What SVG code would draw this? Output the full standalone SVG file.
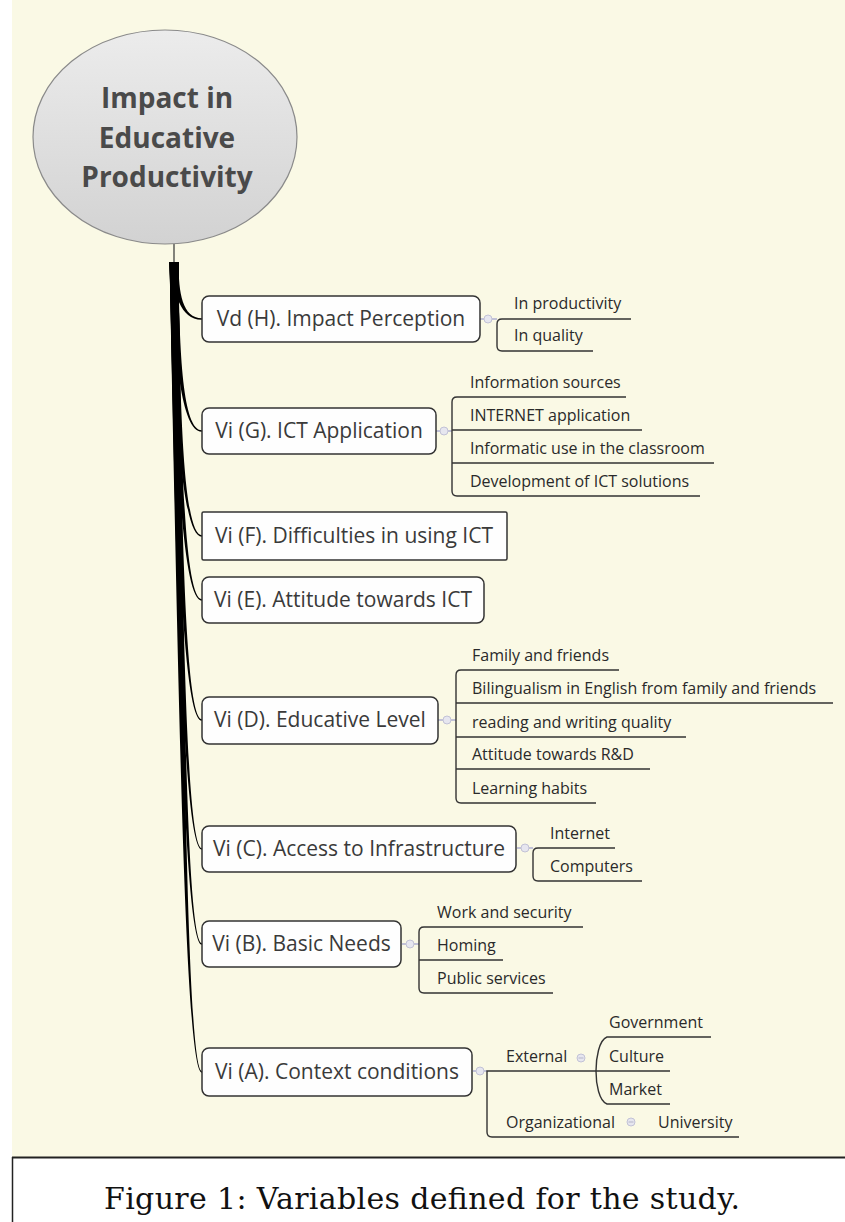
<svg xmlns="http://www.w3.org/2000/svg" width="845" height="1222" viewBox="0 0 845 1222">
<defs>
<linearGradient id="ellg" x1="0" y1="0" x2="0" y2="1">
<stop offset="0" stop-color="#ececec"/>
<stop offset="1" stop-color="#d2d2d2"/>
</linearGradient>
<style>
.node rect{fill:#fefefe;stroke:#333;stroke-width:1.5}
.nt{font-family:"Open Sans","DejaVu Sans",sans-serif;font-size:21px;fill:#3a3a3a;text-anchor:middle}
.ct{font-family:"Open Sans","DejaVu Sans",sans-serif;font-size:16px;fill:#2a2a2a}
.br{fill:#000}
.ul{fill:none;stroke:#333;stroke-width:1.4}
.lk{stroke:#c2c2d6;stroke-width:2}
.ic{fill:#e6e6ef;stroke:#c2c2d6;stroke-width:1}
.ic2{stroke:#b5b5c8;stroke-width:1}
.root{font-family:"Open Sans","DejaVu Sans",sans-serif;font-size:28px;font-weight:bold;fill:#4a4a4a;text-anchor:middle}
.cap{font-family:"DejaVu Serif","Liberation Serif",serif;font-size:30px;fill:#111;text-anchor:middle}
</style>
</defs>
<rect x="0" y="0" width="845" height="1222" fill="#ffffff"/>
<rect x="12" y="0" width="833" height="1157" fill="#faf9e5"/>

<g id="connectors">
<line x1="174" y1="244" x2="174" y2="264" stroke="#333" stroke-width="1.2"/>
<path class="br" d="M169.5,262 C174,293.4 180.3,320.1 202,319.7 L202,318.3 C182.3,317.9 178.6,293.4 178.5,262 Z"/>
<path class="br" d="M169.5,262 C174.8,355 181,432 202,431.7 L202,430.3 C183,430 179.2,355 178.5,262 Z"/>
<path class="br" d="M169.5,262 C175.4,412.7 181.6,537 202,536.7 L202,535.3 C183.6,535 179.8,412.7 178.5,262 Z"/>
<path class="br" d="M169.5,262 C175.8,447.9 182,601 202,600.7 L202,599.3 C184,599 180.2,447.9 178.5,262 Z"/>
<path class="br" d="M169.5,262 C176.5,513.9 182.7,721 202,720.7 L202,719.3 C184.7,719 180.9,513.9 178.5,262 Z"/>
<path class="br" d="M169.5,262 C177.3,584.9 183.5,850 202,849.7 L202,848.3 C185.5,848 181.7,584.9 178.5,262 Z"/>
<path class="br" d="M169.5,262 C177.9,637.1 184.1,945 202,944.7 L202,943.3 C186.1,943 182.3,637.1 178.5,262 Z"/>
<path class="br" d="M169.5,262 C178.7,707.5 184.9,1073 202,1072.7 L202,1071.3 C186.9,1071 183.1,707.5 178.5,262 Z"/>

<line class="lk" x1="480" y1="319" x2="497" y2="319"/>
<circle class="ic" cx="488" cy="319" r="4"/>
<path class="ul" d="M631,319 H502 Q497,319 497,324 V346 Q497,351 502,351 H593"/>

<line class="lk" x1="436" y1="431" x2="452" y2="431"/>
<circle class="ic" cx="444" cy="431" r="4"/>
<path class="ul" d="M626,397 H457 Q452,397 452,402 V491 Q452,496 457,496 H700 M452,430 H642 M452,463 H714"/>

<line class="lk" x1="438" y1="720" x2="456" y2="720"/>
<circle class="ic" cx="447" cy="720" r="4"/>
<path class="ul" d="M619,670 H461 Q456,670 456,675 V798 Q456,803 461,803 H596 M456,703 H833 M456,737 H686 M456,769 H650"/>

<line class="lk" x1="517" y1="848" x2="533" y2="848"/>
<circle class="ic" cx="525" cy="848" r="4"/>
<path class="ul" d="M615,848 H538 Q533,848 533,853 V876 Q533,881 538,881 H642"/>

<line class="lk" x1="402" y1="944" x2="419" y2="944"/>
<circle class="ic" cx="410" cy="944" r="4"/>
<path class="ul" d="M583,927 H424 Q419,927 419,932 V988 Q419,993 424,993 H553 M419,960 H503"/>

<line class="lk" x1="473" y1="1071" x2="487" y2="1071"/>
<circle class="ic" cx="480" cy="1071" r="4"/>
<path class="ul" d="M670,1071 H487 V1132 Q487,1137 492,1137 H739"/>
<path class="ul" d="M711,1037 H607 C599,1040 596,1058 596,1071 C596,1084 599,1101 607,1104 H670"/>
<circle class="ic" cx="581" cy="1058" r="4"/>
<line class="ic2" x1="578.5" y1="1058" x2="583.5" y2="1058"/>
<circle class="ic" cx="631" cy="1122" r="4"/>
<line class="ic2" x1="628.5" y1="1122" x2="633.5" y2="1122"/>
</g>

<g id="root">
<ellipse cx="165" cy="137" rx="132" ry="107" fill="url(#ellg)" stroke="#8a8a8a" stroke-width="1.2"/>
<text class="root" x="167" y="108">Impact in</text>
<text class="root" x="167" y="148">Educative</text>
<text class="root" x="167" y="187">Productivity</text>
</g>

<g id="node-h" class="node">
<rect x="202" y="296" width="278" height="46" rx="7"/>
<text class="nt" x="341" y="326">Vd (H). Impact Perception</text>
</g>
<g id="h-1"><text class="ct" x="514" y="309">In productivity</text></g>
<g id="h-2"><text class="ct" x="514" y="341">In quality</text></g>

<g id="node-g" class="node">
<rect x="202" y="408" width="234" height="46" rx="7"/>
<text class="nt" x="319" y="438">Vi (G). ICT Application</text>
</g>
<g id="g-1"><text class="ct" x="470" y="388">Information sources</text></g>
<g id="g-2"><text class="ct" x="470" y="421">INTERNET application</text></g>
<g id="g-3"><text class="ct" x="470" y="454">Informatic use in the classroom</text></g>
<g id="g-4"><text class="ct" x="470" y="487">Development of ICT solutions</text></g>

<g id="node-f" class="node">
<rect x="202" y="512" width="305" height="48" rx="1.5"/>
<text class="nt" x="354" y="543">Vi (F). Difficulties in using ICT</text>
</g>

<g id="node-e" class="node">
<rect x="202" y="577" width="282" height="46" rx="7"/>
<text class="nt" x="343" y="607">Vi (E). Attitude towards ICT</text>
</g>

<g id="node-d" class="node">
<rect x="202" y="697" width="236" height="47" rx="7"/>
<text class="nt" x="320" y="727">Vi (D). Educative Level</text>
</g>
<g id="d-1"><text class="ct" x="472" y="661">Family and friends</text></g>
<g id="d-2"><text class="ct" x="472" y="694">Bilingualism in English from family and friends</text></g>
<g id="d-3"><text class="ct" x="472" y="728">reading and writing quality</text></g>
<g id="d-4"><text class="ct" x="472" y="760">Attitude towards R&amp;D</text></g>
<g id="d-5"><text class="ct" x="472" y="794">Learning habits</text></g>

<g id="node-c" class="node">
<rect x="202" y="826" width="314" height="46" rx="7"/>
<text class="nt" x="359" y="856">Vi (C). Access to Infrastructure</text>
</g>
<g id="c-1"><text class="ct" x="550" y="839">Internet</text></g>
<g id="c-2"><text class="ct" x="550" y="872">Computers</text></g>

<g id="node-b" class="node">
<rect x="202" y="921" width="199" height="46" rx="7"/>
<text class="nt" x="301.5" y="951">Vi (B). Basic Needs</text>
</g>
<g id="b-1"><text class="ct" x="437" y="918">Work and security</text></g>
<g id="b-2"><text class="ct" x="437" y="951">Homing</text></g>
<g id="b-3"><text class="ct" x="437" y="984">Public services</text></g>

<g id="node-a" class="node">
<rect x="202" y="1048" width="270" height="48" rx="7"/>
<text class="nt" x="337" y="1079">Vi (A). Context conditions</text>
</g>
<g id="a-ext"><text class="ct" x="506" y="1062">External</text></g>
<g id="a-org"><text class="ct" x="506" y="1128">Organizational</text></g>
<g id="a-gov"><text class="ct" x="609" y="1028">Government</text></g>
<g id="a-cul"><text class="ct" x="609" y="1062">Culture</text></g>
<g id="a-mkt"><text class="ct" x="609" y="1095">Market</text></g>
<g id="a-uni"><text class="ct" x="658" y="1128">University</text></g>

<g id="caption">
<line x1="12" y1="1157.5" x2="845" y2="1157.5" stroke="#222" stroke-width="2"/>
<line x1="12.5" y1="1157" x2="12.5" y2="1222" stroke="#222" stroke-width="1.5"/>
<text class="cap" x="422" y="1209" textLength="636">Figure 1: Variables defined for the study.</text>
</g>
</svg>
